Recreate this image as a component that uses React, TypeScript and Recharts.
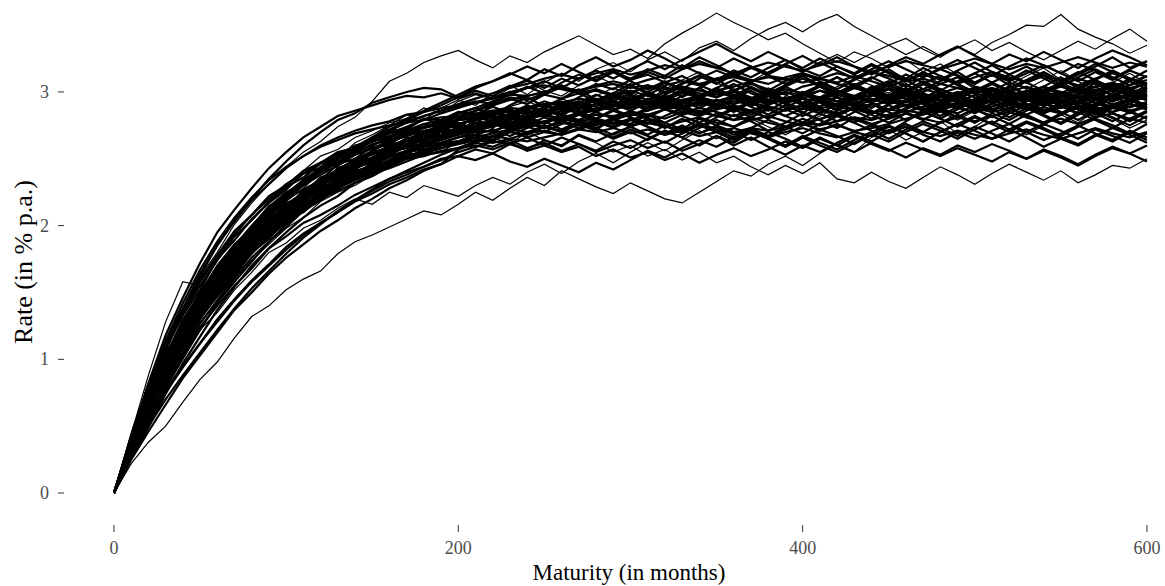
import { LineChart, Line, XAxis, YAxis, Label } from "recharts";

// maturity grid, one point every 10 months
const months = [
  0, 10, 20, 30, 40, 50, 60, 70, 80, 90,
  100, 110, 120, 130, 140, 150, 160, 170, 180, 190,
  200, 210, 220, 230, 240, 250, 260, 270, 280, 290,
  300, 310, 320, 330, 340, 350, 360, 370, 380, 390,
  400, 410, 420, 430, 440, 450, 460, 470, 480, 490,
  500, 510, 520, 530, 540, 550, 560, 570, 580, 590,
  600,
];

const xTicks = [0, 200, 400, 600];
const yTicks = [0, 1, 2, 3];

// simulated short-rate paths (in % p.a.)
const p01 = [
  0, 0.44, 0.88, 1.28, 1.58, 1.55, 1.76, 1.93, 2.08, 2.20,
  2.30, 2.41, 2.52, 2.57, 2.66, 2.71, 2.77, 2.80, 2.88, 2.84,
  2.93, 2.98, 2.95, 3.03, 3.08, 3.01, 2.97, 3.05, 3.12, 3.06,
  3.00, 2.94, 3.02, 3.09, 3.15, 3.07, 3.01, 2.95, 3.03, 2.98,
  2.91, 2.96, 3.04, 3.10, 3.05, 2.99, 3.08, 3.14, 3.06, 3.11,
  3.02, 2.96, 3.05, 3.12, 3.18, 3.09, 3.03, 3.10, 3.16, 3.08,
  3.12,
];
const p02 = [
  0, 0.22, 0.38, 0.50, 0.68, 0.85, 0.98, 1.16, 1.32, 1.40,
  1.52, 1.60, 1.66, 1.79, 1.88, 1.93, 1.99, 2.05, 2.11, 2.08,
  2.16, 2.25, 2.19, 2.28, 2.36, 2.30, 2.41, 2.35, 2.29, 2.24,
  2.32, 2.26, 2.20, 2.17, 2.25, 2.33, 2.41, 2.37, 2.46, 2.52,
  2.45, 2.54, 2.61, 2.55, 2.66, 2.72, 2.64, 2.70, 2.78, 2.69,
  2.74, 2.82, 2.76, 2.68, 2.75, 2.83, 2.77, 2.86, 2.80, 2.73,
  2.79,
];
const p03 = [
  0, 0.45, 0.82, 1.10, 1.36, 1.62, 1.80, 2.01, 2.17, 2.31,
  2.44, 2.55, 2.63, 2.74, 2.81, 2.93, 3.08, 3.14, 3.22, 3.27,
  3.31, 3.24, 3.18, 3.27, 3.22, 3.30, 3.36, 3.42, 3.35, 3.28,
  3.32, 3.25, 3.36, 3.44, 3.51, 3.59, 3.52, 3.46, 3.39, 3.44,
  3.36, 3.29, 3.22, 3.30, 3.25, 3.18, 3.24, 3.15, 3.21, 3.13,
  3.07, 3.15, 3.10, 3.02, 3.09, 3.16, 3.08, 3.01, 3.07, 3.14,
  3.06,
];
const p04 = [
  0, 0.40, 0.74, 1.05, 1.26, 1.48, 1.69, 1.84, 2.00, 2.15,
  2.22, 2.35, 2.46, 2.50, 2.62, 2.68, 2.75, 2.83, 2.79, 2.88,
  2.94, 2.90, 2.99, 3.05, 2.98, 3.07, 3.14, 3.08, 3.17, 3.22,
  3.15, 3.24, 3.30, 3.23, 3.33, 3.38, 3.31, 3.40, 3.47, 3.52,
  3.45, 3.53, 3.58, 3.49, 3.42, 3.35, 3.40, 3.32, 3.26, 3.34,
  3.28, 3.37, 3.43, 3.50, 3.49, 3.58, 3.47, 3.41, 3.36, 3.29,
  3.35,
];
const p05 = [
  0, 0.30, 0.58, 0.85, 1.05, 1.27, 1.42, 1.60, 1.74, 1.86,
  1.98, 2.06, 2.18, 2.25, 2.30, 2.38, 2.45, 2.50, 2.58, 2.55,
  2.63, 2.58, 2.66, 2.61, 2.70, 2.64, 2.59, 2.67, 2.62, 2.55,
  2.60, 2.52, 2.57, 2.49, 2.55, 2.47, 2.52, 2.44, 2.38, 2.45,
  2.39, 2.47, 2.35, 2.32, 2.40, 2.33, 2.28, 2.36, 2.44, 2.38,
  2.31, 2.39, 2.46, 2.40, 2.34, 2.41, 2.32, 2.38, 2.45, 2.43,
  2.50,
];
const p06 = [
  0, 0.28, 0.55, 0.80, 1.00, 1.22, 1.35, 1.52, 1.65, 1.80,
  1.87, 1.98, 2.04, 2.13, 2.20, 2.16, 2.25, 2.21, 2.30, 2.26,
  2.22, 2.30, 2.36, 2.31, 2.40, 2.46, 2.39, 2.48, 2.54, 2.47,
  2.55, 2.62, 2.56, 2.64, 2.71, 2.65, 2.73, 2.80, 2.74, 2.68,
  2.75, 2.82, 2.88, 2.80, 2.74, 2.81, 2.87, 2.93, 2.85, 2.79,
  2.86, 2.92, 2.84, 2.90, 2.97, 2.89, 2.83, 2.90, 2.96, 2.88,
  2.93,
];
const p07 = [
  0, 0.39, 0.75, 1.02, 1.30, 1.49, 1.70, 1.86, 1.97, 2.14,
  2.25, 2.31, 2.44, 2.52, 2.55, 2.64, 2.70, 2.73, 2.80, 2.76,
  2.84, 2.88, 2.82, 2.90, 2.96, 2.89, 2.95, 3.02, 2.94, 2.99,
  3.06, 2.98, 3.04, 2.96, 3.03, 3.10, 3.01, 3.07, 2.99, 3.05,
  3.12, 3.04, 2.97, 3.03, 3.10, 3.17, 3.09, 3.02, 3.08, 3.15,
  3.07, 3.13, 3.05, 2.98, 3.04, 3.11, 3.03, 3.09, 3.16, 3.10,
  3.04,
];
const p08 = [
  0, 0.31, 0.57, 0.86, 1.05, 1.31, 1.47, 1.62, 1.80, 1.90,
  2.05, 2.10, 2.21, 2.27, 2.37, 2.41, 2.46, 2.54, 2.52, 2.60,
  2.62, 2.66, 2.63, 2.70, 2.68, 2.74, 2.71, 2.78, 2.72, 2.80,
  2.76, 2.83, 2.77, 2.72, 2.80, 2.75, 2.83, 2.78, 2.71, 2.77,
  2.84, 2.79, 2.73, 2.81, 2.76, 2.70, 2.78, 2.85, 2.80, 2.74,
  2.81, 2.76, 2.84, 2.90, 2.83, 2.77, 2.85, 2.79, 2.73, 2.80,
  2.86,
];
const p09 = [
  0, 0.36, 0.70, 0.97, 1.15, 1.44, 1.61, 1.73, 1.94, 2.05,
  2.10, 2.26, 2.30, 2.43, 2.48, 2.50, 2.61, 2.60, 2.69, 2.65,
  2.75, 2.73, 2.80, 2.76, 2.85, 2.81, 2.89, 2.84, 2.92, 2.86,
  2.93, 2.88, 2.95, 2.90, 2.84, 2.91, 2.97, 2.92, 2.86, 2.93,
  2.99, 2.92, 2.87, 2.95, 3.01, 2.96, 2.89, 2.95, 3.02, 2.97,
  2.91, 2.98, 2.93, 2.87, 2.94, 3.00, 2.95, 2.89, 2.96, 3.02,
  2.97,
];
const p10 = [
  0, 0.42, 0.80, 1.08, 1.35, 1.55, 1.74, 1.92, 2.04, 2.18,
  2.29, 2.36, 2.47, 2.51, 2.60, 2.63, 2.66, 2.72, 2.70, 2.74,
  2.77, 2.72, 2.78, 2.74, 2.69, 2.75, 2.70, 2.76, 2.71, 2.65,
  2.70, 2.64, 2.71, 2.66, 2.60, 2.67, 2.62, 2.70, 2.65, 2.59,
  2.66, 2.72, 2.67, 2.61, 2.68, 2.74, 2.69, 2.63, 2.70, 2.76,
  2.71, 2.65, 2.72, 2.78, 2.73, 2.67, 2.74, 2.80, 2.75, 2.69,
  2.76,
];
const p11 = [
  0, 0.26, 0.52, 0.78, 1.01, 1.22, 1.42, 1.58, 1.73, 1.88,
  1.99, 2.11, 2.19, 2.30, 2.38, 2.47, 2.53, 2.60, 2.67, 2.74,
  2.79, 2.86, 2.92, 2.98, 3.04, 2.99, 3.07, 3.13, 3.08, 3.15,
  3.10, 3.17, 3.12, 3.20, 3.14, 3.09, 3.16, 3.11, 3.18, 3.24,
  3.17, 3.12, 3.19, 3.14, 3.21, 3.15, 3.10, 3.18, 3.12, 3.07,
  3.14, 3.20, 3.13, 3.19, 3.12, 3.06, 3.13, 3.19, 3.26, 3.18,
  3.23,
];
const p12 = [
  0, 0.34, 0.68, 0.92, 1.22, 1.38, 1.63, 1.77, 1.87, 2.07,
  2.17, 2.21, 2.35, 2.37, 2.49, 2.55, 2.55, 2.66, 2.63, 2.73,
  2.70, 2.79, 2.75, 2.84, 2.79, 2.87, 2.82, 2.91, 2.85, 2.93,
  2.88, 2.95, 2.90, 2.97, 3.03, 2.96, 3.02, 2.95, 3.01, 2.94,
  3.00, 2.93, 2.99, 3.05, 2.98, 2.92, 2.99, 3.06, 3.00, 2.94,
  3.01, 3.07, 3.00, 2.93, 2.99, 3.05, 2.98, 3.04, 2.97, 3.03,
  2.96,
];
const p13 = [
  0, 0.33, 0.63, 0.90, 1.12, 1.36, 1.55, 1.70, 1.83, 1.98,
  2.07, 2.19, 2.26, 2.33, 2.41, 2.44, 2.52, 2.55, 2.59, 2.62,
  2.66, 2.68, 2.64, 2.71, 2.66, 2.60, 2.66, 2.61, 2.56, 2.63,
  2.58, 2.65, 2.71, 2.66, 2.73, 2.79, 2.74, 2.81, 2.87, 2.82,
  2.88, 2.84, 2.91, 2.86, 2.80, 2.87, 2.93, 2.88, 2.82, 2.89,
  2.84, 2.91, 2.97, 2.91, 2.85, 2.92, 2.87, 2.81, 2.88, 2.94,
  2.88,
];
const p14 = [
  0, 0.40, 0.80, 1.13, 1.38, 1.64, 1.85, 2.04, 2.20, 2.35,
  2.48, 2.60, 2.70, 2.79, 2.84, 2.92, 2.96, 3.00, 3.03, 3.02,
  2.96, 3.01, 2.97, 3.04, 3.09, 3.03, 3.10, 3.05, 3.11, 3.16,
  3.09, 3.13, 3.07, 3.12, 3.05, 3.00, 3.06, 2.99, 2.94, 3.00,
  2.95, 3.01, 2.96, 2.90, 2.97, 3.03, 2.98, 2.92, 2.99, 2.94,
  2.88, 2.95, 3.01, 2.96, 2.90, 2.97, 3.03, 2.98, 3.05, 2.99,
  3.04,
];
const p15 = [
  0, 0.29, 0.60, 0.83, 1.04, 1.24, 1.40, 1.55, 1.68, 1.83,
  1.92, 2.02, 2.08, 2.15, 2.23, 2.29, 2.35, 2.40, 2.44, 2.50,
  2.52, 2.57, 2.54, 2.61, 2.57, 2.64, 2.60, 2.68, 2.63, 2.69,
  2.74, 2.68, 2.75, 2.70, 2.77, 2.72, 2.66, 2.73, 2.79, 2.74,
  2.69, 2.76, 2.82, 2.77, 2.71, 2.65, 2.72, 2.78, 2.73, 2.67,
  2.74, 2.69, 2.63, 2.70, 2.76, 2.71, 2.65, 2.72, 2.67, 2.62,
  2.69,
];
const p16 = [
  0, 0.37, 0.71, 1.00, 1.20, 1.45, 1.62, 1.80, 1.96, 2.09,
  2.19, 2.30, 2.38, 2.45, 2.53, 2.58, 2.62, 2.68, 2.74, 2.78,
  2.81, 2.86, 2.90, 2.95, 2.91, 2.98, 3.04, 2.99, 3.06, 3.02,
  3.09, 3.15, 3.10, 3.17, 3.23, 3.18, 3.25, 3.19, 3.14, 3.21,
  3.27, 3.20, 3.26, 3.19, 3.13, 3.20, 3.26, 3.21, 3.28, 3.34,
  3.27, 3.21, 3.28, 3.23, 3.30, 3.24, 3.18, 3.25, 3.31, 3.26,
  3.20,
];
const p17 = [
  0, 0.34, 0.66, 0.96, 1.20, 1.40, 1.57, 1.72, 1.91, 2.00,
  2.14, 2.20, 2.29, 2.38, 2.43, 2.48, 2.56, 2.58, 2.62, 2.66,
  2.69, 2.71, 2.76, 2.72, 2.78, 2.74, 2.70, 2.76, 2.71, 2.66,
  2.72, 2.67, 2.62, 2.69, 2.75, 2.70, 2.64, 2.71, 2.66, 2.60,
  2.67, 2.62, 2.57, 2.64, 2.70, 2.75, 2.69, 2.63, 2.70, 2.76,
  2.82, 2.76, 2.70, 2.77, 2.72, 2.66, 2.61, 2.68, 2.63, 2.70,
  2.64,
];
const p18 = [
  0, 0.37, 0.64, 0.98, 1.14, 1.43, 1.54, 1.79, 1.86, 2.06,
  2.10, 2.27, 2.28, 2.43, 2.42, 2.56, 2.53, 2.66, 2.62, 2.74,
  2.68, 2.80, 2.73, 2.84, 2.76, 2.88, 2.81, 2.93, 2.86, 2.97,
  2.90, 2.99, 2.92, 2.85, 2.94, 2.87, 2.96, 2.89, 2.98, 2.91,
  2.84, 2.93, 2.86, 2.95, 3.04, 2.97, 3.06, 2.98, 2.90, 2.99,
  2.92, 3.01, 2.94, 2.87, 2.96, 2.89, 2.98, 3.07, 3.00, 2.93,
  3.01,
];
const p19 = [
  0, 0.36, 0.69, 0.98, 1.24, 1.46, 1.64, 1.83, 1.95, 2.10,
  2.21, 2.33, 2.40, 2.50, 2.57, 2.65, 2.71, 2.79, 2.85, 2.90,
  2.96, 3.03, 3.08, 3.14, 3.09, 3.17, 3.12, 3.20, 3.26, 3.19,
  3.24, 3.31, 3.25, 3.18, 3.26, 3.20, 3.13, 3.19, 3.12, 3.06,
  3.12, 3.05, 2.99, 3.06, 3.00, 2.94, 3.01, 2.95, 2.89, 2.96,
  3.02, 2.96, 3.03, 3.09, 3.15, 3.08, 3.14, 3.21, 3.15, 3.09,
  3.16,
];
const p20 = [
  0, 0.32, 0.62, 0.89, 1.14, 1.32, 1.52, 1.66, 1.82, 1.95,
  2.06, 2.14, 2.24, 2.29, 2.35, 2.42, 2.45, 2.50, 2.52, 2.56,
  2.58, 2.62, 2.59, 2.64, 2.58, 2.62, 2.56, 2.61, 2.55, 2.60,
  2.64, 2.58, 2.63, 2.56, 2.61, 2.67, 2.60, 2.66, 2.59, 2.53,
  2.60, 2.55, 2.62, 2.68, 2.63, 2.70, 2.76, 2.70, 2.77, 2.83,
  2.77, 2.84, 2.79, 2.86, 2.92, 2.85, 2.79, 2.86, 2.81, 2.75,
  2.82,
];
const p21 = [
  0, 0.35, 0.72, 0.99, 1.19, 1.47, 1.60, 1.80, 1.93, 2.06,
  2.20, 2.27, 2.34, 2.46, 2.50, 2.59, 2.60, 2.70, 2.68, 2.77,
  2.79, 2.80, 2.86, 2.82, 2.89, 2.84, 2.92, 2.88, 2.95, 2.90,
  2.97, 2.91, 2.98, 3.04, 2.97, 3.03, 2.96, 2.90, 2.97, 3.04,
  2.98, 3.05, 3.11, 3.04, 2.98, 3.05, 2.99, 3.06, 3.12, 3.05,
  2.99, 3.06, 3.00, 2.94, 3.01, 3.07, 3.01, 2.95, 3.02, 3.08,
  3.02,
];
const p22 = [
  0, 0.32, 0.65, 0.91, 1.15, 1.37, 1.53, 1.73, 1.85, 1.99,
  2.09, 2.21, 2.27, 2.36, 2.42, 2.50, 2.53, 2.61, 2.64, 2.70,
  2.71, 2.77, 2.74, 2.81, 2.86, 2.82, 2.89, 2.84, 2.91, 2.97,
  2.93, 3.00, 2.95, 3.02, 2.96, 3.03, 3.09, 3.03, 2.97, 3.04,
  3.10, 3.04, 3.11, 3.05, 2.99, 3.06, 3.13, 3.07, 3.01, 3.08,
  3.14, 3.07, 3.01, 3.08, 3.14, 3.08, 3.15, 3.09, 3.03, 3.10,
  3.06,
];
const p23 = [
  0, 0.36, 0.67, 0.93, 1.18, 1.38, 1.59, 1.74, 1.86, 2.01,
  2.11, 2.24, 2.30, 2.37, 2.47, 2.50, 2.55, 2.63, 2.64, 2.68,
  2.73, 2.74, 2.78, 2.75, 2.80, 2.76, 2.82, 2.78, 2.73, 2.79,
  2.74, 2.80, 2.75, 2.69, 2.76, 2.70, 2.64, 2.71, 2.65, 2.59,
  2.66, 2.60, 2.55, 2.62, 2.68, 2.63, 2.70, 2.76, 2.71, 2.65,
  2.72, 2.78, 2.72, 2.66, 2.59, 2.65, 2.60, 2.67, 2.73, 2.68,
  2.62,
];
const p24 = [
  0, 0.41, 0.78, 1.09, 1.33, 1.52, 1.75, 1.89, 2.05, 2.17,
  2.27, 2.39, 2.43, 2.54, 2.59, 2.63, 2.71, 2.72, 2.80, 2.79,
  2.85, 2.83, 2.89, 2.84, 2.90, 2.85, 2.91, 2.86, 2.80, 2.86,
  2.92, 2.86, 2.93, 2.87, 2.94, 2.89, 2.95, 3.01, 2.94, 2.88,
  2.95, 2.89, 2.96, 2.90, 2.84, 2.91, 2.97, 2.91, 2.85, 2.92,
  2.98, 2.92, 2.86, 2.93, 2.99, 2.93, 2.87, 2.94, 2.88, 2.95,
  2.90,
];
const p25 = [
  0, 0.27, 0.55, 0.81, 1.03, 1.27, 1.44, 1.61, 1.76, 1.88,
  2.01, 2.12, 2.19, 2.28, 2.36, 2.43, 2.49, 2.56, 2.61, 2.66,
  2.70, 2.75, 2.79, 2.84, 2.80, 2.87, 2.83, 2.89, 2.85, 2.91,
  2.86, 2.92, 2.87, 2.93, 2.88, 2.94, 2.89, 2.83, 2.90, 2.96,
  2.90, 2.84, 2.91, 2.97, 2.92, 2.86, 2.93, 2.99, 2.94, 2.88,
  2.95, 3.01, 2.95, 2.89, 2.96, 2.90, 2.84, 2.91, 2.97, 2.91,
  2.98,
];
const p26 = [
  0, 0.35, 0.66, 0.96, 1.17, 1.41, 1.58, 1.77, 1.90, 2.04,
  2.13, 2.25, 2.33, 2.41, 2.46, 2.55, 2.58, 2.65, 2.69, 2.71,
  2.76, 2.80, 2.84, 2.82, 2.88, 2.93, 2.89, 2.96, 3.02, 2.97,
  3.04, 3.00, 3.07, 3.02, 3.10, 3.16, 3.11, 3.18, 3.13, 3.20,
  3.15, 3.22, 3.16, 3.10, 3.17, 3.23, 3.17, 3.11, 3.18, 3.24,
  3.18, 3.12, 3.19, 3.25, 3.20, 3.14, 3.21, 3.16, 3.10, 3.17,
  3.23,
];
const p27 = [
  0, 0.33, 0.68, 0.92, 1.16, 1.39, 1.55, 1.76, 1.87, 2.00,
  2.12, 2.22, 2.30, 2.40, 2.44, 2.51, 2.57, 2.60, 2.64, 2.67,
  2.70, 2.73, 2.78, 2.74, 2.79, 2.73, 2.78, 2.73, 2.79, 2.74,
  2.80, 2.74, 2.69, 2.75, 2.69, 2.74, 2.68, 2.73, 2.67, 2.72,
  2.77, 2.71, 2.76, 2.70, 2.75, 2.69, 2.74, 2.68, 2.63, 2.70,
  2.65, 2.71, 2.76, 2.70, 2.64, 2.69, 2.75, 2.69, 2.64, 2.71,
  2.66,
];
const p28 = [
  0, 0.38, 0.72, 1.01, 1.25, 1.43, 1.66, 1.79, 1.96, 2.08,
  2.18, 2.28, 2.40, 2.44, 2.54, 2.57, 2.65, 2.67, 2.73, 2.75,
  2.80, 2.82, 2.86, 2.89, 2.93, 2.88, 2.95, 2.90, 2.97, 3.03,
  2.98, 3.05, 3.00, 3.07, 3.13, 3.07, 3.14, 3.08, 3.15, 3.21,
  3.15, 3.22, 3.28, 3.22, 3.29, 3.35, 3.28, 3.34, 3.27, 3.33,
  3.39, 3.31, 3.37, 3.30, 3.24, 3.31, 3.38, 3.32, 3.40, 3.47,
  3.38,
];
const p29 = [
  0, 0.31, 0.60, 0.87, 1.08, 1.30, 1.48, 1.64, 1.79, 1.92,
  2.02, 2.12, 2.20, 2.26, 2.32, 2.39, 2.43, 2.48, 2.53, 2.55,
  2.58, 2.60, 2.57, 2.62, 2.56, 2.60, 2.55, 2.59, 2.52, 2.57,
  2.51, 2.55, 2.49, 2.54, 2.47, 2.53, 2.58, 2.52, 2.57, 2.63,
  2.58, 2.65, 2.60, 2.67, 2.61, 2.56, 2.62, 2.57, 2.52, 2.58,
  2.53, 2.48, 2.55, 2.50, 2.56, 2.51, 2.45, 2.52, 2.58, 2.54,
  2.60,
];
const p30 = [
  0, 0.37, 0.70, 0.95, 1.21, 1.41, 1.60, 1.78, 1.92, 2.04,
  2.16, 2.24, 2.36, 2.41, 2.50, 2.53, 2.60, 2.64, 2.70, 2.72,
  2.76, 2.79, 2.82, 2.87, 2.83, 2.89, 2.93, 2.88, 2.94, 2.89,
  2.95, 2.90, 2.96, 2.91, 2.97, 2.91, 2.86, 2.93, 2.99, 2.94,
  3.00, 2.95, 2.89, 2.96, 3.02, 2.97, 3.03, 2.96, 2.91, 2.97,
  3.03, 2.98, 2.92, 2.98, 3.04, 2.97, 2.91, 2.98, 3.04, 2.98,
  2.94,
];
const p31 = [
  0, 0.34, 0.64, 0.92, 1.16, 1.36, 1.56, 1.71, 1.86, 1.98,
  2.10, 2.19, 2.28, 2.34, 2.44, 2.47, 2.53, 2.59, 2.61, 2.66,
  2.68, 2.72, 2.70, 2.76, 2.81, 2.77, 2.83, 2.79, 2.85, 2.80,
  2.86, 2.81, 2.87, 2.82, 2.77, 2.84, 2.79, 2.86, 2.80, 2.87,
  2.82, 2.88, 2.83, 2.77, 2.84, 2.90, 2.85, 2.79, 2.86, 2.81,
  2.87, 2.82, 2.76, 2.83, 2.89, 2.84, 2.90, 2.84, 2.78, 2.85,
  2.80,
];
const p32 = [
  0, 0.39, 0.74, 1.03, 1.27, 1.50, 1.69, 1.85, 2.00, 2.13,
  2.24, 2.34, 2.43, 2.51, 2.58, 2.66, 2.74, 2.80, 2.86, 2.92,
  2.98, 3.04, 3.08, 3.13, 3.19, 3.14, 3.21, 3.15, 3.09, 3.15,
  3.08, 3.02, 3.08, 3.01, 2.95, 3.02, 2.96, 3.03, 2.97, 2.91,
  2.97, 3.04, 2.98, 3.05, 3.11, 3.05, 2.99, 3.06, 3.12, 3.06,
  3.00, 3.07, 3.13, 3.07, 3.01, 2.95, 3.02, 3.08, 3.02, 2.97,
  3.03,
];
const p33 = [
  0, 0.27, 0.52, 0.75, 0.94, 1.12, 1.30, 1.45, 1.59, 1.71,
  1.84, 1.94, 2.02, 2.10, 2.18, 2.24, 2.31, 2.36, 2.42, 2.46,
  2.52, 2.49, 2.54, 2.48, 2.44, 2.50, 2.45, 2.40, 2.47, 2.42,
  2.49, 2.56, 2.51, 2.58, 2.64, 2.59, 2.66, 2.72, 2.67, 2.74,
  2.80, 2.75, 2.82, 2.88, 2.83, 2.77, 2.84, 2.79, 2.86, 2.92,
  2.87, 2.81, 2.88, 2.83, 2.77, 2.84, 2.90, 2.85, 2.91, 2.86,
  2.80,
];
const p34 = [
  0, 0.42, 0.82, 1.18, 1.46, 1.72, 1.95, 2.12, 2.28, 2.43,
  2.55, 2.66, 2.74, 2.82, 2.86, 2.90, 2.94, 2.97, 2.96, 2.99,
  2.95, 2.99, 2.95, 3.00, 2.94, 2.99, 3.05, 2.99, 2.93, 2.99,
  2.94, 2.88, 2.95, 2.89, 2.84, 2.91, 2.85, 2.92, 2.98, 2.92,
  2.87, 2.94, 3.00, 2.94, 2.88, 2.95, 3.01, 3.08, 3.02, 2.96,
  3.03, 2.97, 2.91, 2.98, 3.04, 2.99, 2.93, 3.00, 3.06, 3.01,
  3.07,
];
const p35 = [
  0, 0.25, 0.46, 0.66, 0.86, 1.03, 1.20, 1.37, 1.50, 1.64,
  1.76, 1.86, 1.96, 2.04, 2.13, 2.20, 2.28, 2.34, 2.41, 2.46,
  2.57, 2.62, 2.67, 2.71, 2.76, 2.73, 2.79, 2.85, 2.80, 2.87,
  2.82, 2.88, 2.94, 2.89, 2.96, 3.02, 2.97, 3.04, 2.98, 2.92,
  2.99, 3.05, 3.00, 2.94, 3.01, 3.07, 3.01, 2.95, 3.02, 2.97,
  2.91, 2.98, 3.04, 2.98, 2.92, 2.99, 3.05, 2.99, 2.93, 3.00,
  2.95,
];
const p36 = [
  0, 0.33, 0.69, 0.94, 1.17, 1.42, 1.57, 1.72, 1.88, 2.03,
  2.12, 2.21, 2.33, 2.36, 2.45, 2.49, 2.57, 2.58, 2.65, 2.66,
  2.73, 2.71, 2.77, 2.73, 2.79, 2.83, 2.78, 2.84, 2.80, 2.86,
  2.81, 2.76, 2.82, 2.88, 2.83, 2.89, 2.95, 2.89, 2.83, 2.90,
  2.85, 2.79, 2.86, 2.92, 2.86, 2.80, 2.87, 2.93, 2.87, 2.81,
  2.88, 2.94, 2.88, 2.82, 2.76, 2.83, 2.89, 2.83, 2.90, 2.84,
  2.91,
];
const p37 = [
  0, 0.36, 0.68, 0.97, 1.19, 1.42, 1.62, 1.76, 1.91, 2.05,
  2.14, 2.26, 2.31, 2.42, 2.47, 2.54, 2.59, 2.65, 2.67, 2.73,
  2.74, 2.81, 2.85, 2.80, 2.87, 2.91, 2.86, 2.92, 2.98, 2.93,
  2.99, 3.05, 2.99, 3.06, 3.12, 3.06, 3.13, 3.07, 3.01, 3.08,
  3.14, 3.08, 3.02, 3.09, 3.15, 3.10, 3.04, 3.11, 3.17, 3.12,
  3.06, 3.13, 3.08, 3.14, 3.20, 3.14, 3.08, 3.15, 3.09, 3.16,
  3.11,
];
const p38 = [
  0, 0.30, 0.63, 0.88, 1.10, 1.34, 1.50, 1.68, 1.83, 1.96,
  2.04, 2.17, 2.23, 2.31, 2.37, 2.45, 2.48, 2.55, 2.57, 2.62,
  2.63, 2.68, 2.72, 2.67, 2.73, 2.78, 2.72, 2.78, 2.73, 2.68,
  2.74, 2.79, 2.73, 2.80, 2.74, 2.81, 2.87, 2.81, 2.88, 2.82,
  2.77, 2.84, 2.78, 2.85, 2.91, 2.85, 2.79, 2.86, 2.80, 2.87,
  2.93, 2.87, 2.81, 2.88, 2.82, 2.76, 2.83, 2.89, 2.84, 2.78,
  2.85,
];
const p39 = [
  0, 0.38, 0.71, 1.00, 1.23, 1.48, 1.67, 1.81, 1.97, 2.11,
  2.22, 2.31, 2.41, 2.47, 2.55, 2.60, 2.66, 2.71, 2.76, 2.79,
  2.84, 2.88, 2.93, 2.98, 3.03, 3.08, 3.03, 3.10, 3.16, 3.10,
  3.17, 3.23, 3.17, 3.24, 3.30, 3.36, 3.29, 3.23, 3.30, 3.24,
  3.18, 3.25, 3.19, 3.13, 3.20, 3.14, 3.08, 3.15, 3.09, 3.16,
  3.22, 3.15, 3.09, 3.16, 3.10, 3.04, 3.11, 3.17, 3.11, 3.05,
  3.12,
];
const p40 = [
  0, 0.33, 0.62, 0.90, 1.13, 1.35, 1.53, 1.70, 1.85, 1.99,
  2.09, 2.18, 2.27, 2.35, 2.40, 2.46, 2.52, 2.56, 2.60, 2.64,
  2.68, 2.71, 2.74, 2.78, 2.75, 2.81, 2.77, 2.83, 2.78, 2.73,
  2.79, 2.74, 2.68, 2.74, 2.69, 2.75, 2.70, 2.64, 2.70, 2.65,
  2.59, 2.66, 2.60, 2.55, 2.62, 2.57, 2.51, 2.58, 2.53, 2.60,
  2.55, 2.61, 2.56, 2.50, 2.57, 2.52, 2.46, 2.53, 2.59, 2.54,
  2.48,
];
const p41 = [
  0, 0.41, 0.79, 1.10, 1.36, 1.60, 1.78, 1.96, 2.08, 2.22,
  2.30, 2.41, 2.47, 2.55, 2.58, 2.66, 2.69, 2.71, 2.76, 2.74,
  2.79, 2.81, 2.78, 2.83, 2.86, 2.84, 2.90, 2.93, 2.89, 2.95,
  2.98, 2.94, 3.00, 3.03, 2.99, 2.96, 3.01, 3.06, 3.02, 2.98,
  3.04, 3.07, 3.01, 2.97, 3.03, 3.08, 3.05, 3.00, 3.06, 3.11,
  3.04, 3.01, 3.07, 3.03, 2.99, 3.05, 3.10, 3.06, 3.01, 3.05,
  3.09,
];
const p42 = [
  0, 0.26, 0.49, 0.74, 0.97, 1.17, 1.37, 1.54, 1.70, 1.83,
  1.95, 2.06, 2.15, 2.22, 2.32, 2.37, 2.44, 2.50, 2.55, 2.61,
  2.63, 2.68, 2.66, 2.71, 2.74, 2.70, 2.76, 2.79, 2.75, 2.81,
  2.84, 2.80, 2.77, 2.83, 2.86, 2.82, 2.88, 2.85, 2.81, 2.87,
  2.90, 2.86, 2.83, 2.89, 2.85, 2.82, 2.88, 2.92, 2.87, 2.84,
  2.90, 2.86, 2.91, 2.88, 2.84, 2.89, 2.93, 2.88, 2.85, 2.91,
  2.87,
];
const p43 = [
  0, 0.38, 0.74, 1.07, 1.35, 1.62, 1.86, 2.03, 2.19, 2.31,
  2.43, 2.52, 2.60, 2.66, 2.71, 2.75, 2.78, 2.83, 2.85, 2.88,
  2.90, 2.93, 2.91, 2.96, 2.94, 2.98, 2.95, 2.99, 3.02, 2.98,
  3.01, 2.97, 2.94, 2.99, 2.96, 3.00, 2.97, 2.93, 2.98, 3.02,
  2.99, 2.95, 3.00, 2.96, 2.92, 2.97, 3.01, 2.98, 2.94, 2.99,
  3.03, 2.99, 2.95, 3.00, 3.04, 3.00, 2.96, 3.01, 3.05, 3.01,
  2.97,
];
const p44 = [
  0, 0.31, 0.55, 0.77, 0.95, 1.12, 1.28, 1.44, 1.58, 1.70,
  1.82, 1.93, 2.02, 2.10, 2.19, 2.26, 2.33, 2.38, 2.44, 2.49,
  2.55, 2.59, 2.63, 2.61, 2.66, 2.70, 2.68, 2.73, 2.77, 2.74,
  2.79, 2.83, 2.80, 2.85, 2.82, 2.87, 2.90, 2.86, 2.91, 2.95,
  2.91, 2.96, 2.93, 2.89, 2.94, 2.98, 2.95, 2.91, 2.96, 3.00,
  2.96, 2.92, 2.97, 3.01, 2.97, 2.93, 2.98, 3.02, 2.98, 2.94,
  2.99,
];
const p45 = [
  0, 0.37, 0.66, 0.96, 1.17, 1.42, 1.57, 1.77, 1.88, 2.04,
  2.12, 2.25, 2.31, 2.41, 2.45, 2.54, 2.56, 2.64, 2.65, 2.71,
  2.71, 2.77, 2.76, 2.82, 2.80, 2.85, 2.84, 2.88, 2.86, 2.90,
  2.88, 2.92, 2.89, 2.93, 2.90, 2.94, 2.91, 2.95, 2.92, 2.96,
  2.92, 2.96, 2.93, 2.97, 2.93, 2.96, 2.92, 2.97, 2.94, 2.98,
  2.93, 2.97, 2.94, 2.98, 2.93, 2.97, 2.92, 2.96, 2.93, 2.97,
  2.94,
];
const p46 = [
  0, 0.33, 0.64, 0.90, 1.14, 1.36, 1.55, 1.72, 1.87, 2.01,
  2.14, 2.24, 2.34, 2.42, 2.49, 2.56, 2.62, 2.68, 2.73, 2.77,
  2.82, 2.86, 2.90, 2.94, 2.97, 3.00, 3.03, 3.01, 3.05, 3.08,
  3.05, 3.09, 3.12, 3.08, 3.05, 3.10, 3.13, 3.09, 3.06, 3.11,
  3.14, 3.10, 3.07, 3.12, 3.08, 3.04, 3.09, 3.13, 3.10, 3.06,
  3.11, 3.15, 3.11, 3.07, 3.12, 3.09, 3.05, 3.10, 3.14, 3.10,
  3.06,
];
const p47 = [
  0, 0.36, 0.70, 0.99, 1.20, 1.41, 1.57, 1.72, 1.85, 1.96,
  2.06, 2.15, 2.23, 2.30, 2.36, 2.43, 2.47, 2.52, 2.56, 2.60,
  2.63, 2.66, 2.69, 2.72, 2.70, 2.74, 2.77, 2.75, 2.79, 2.76,
  2.80, 2.77, 2.74, 2.78, 2.81, 2.77, 2.74, 2.79, 2.82, 2.78,
  2.75, 2.80, 2.83, 2.79, 2.76, 2.80, 2.84, 2.80, 2.77, 2.81,
  2.78, 2.82, 2.85, 2.81, 2.77, 2.80, 2.76, 2.81, 2.84, 2.80,
  2.77,
];
const p48 = [
  0, 0.35, 0.69, 0.97, 1.21, 1.43, 1.62, 1.79, 1.94, 2.08,
  2.20, 2.31, 2.40, 2.48, 2.56, 2.63, 2.69, 2.74, 2.79, 2.84,
  2.88, 2.92, 2.96, 3.00, 3.03, 3.05, 3.02, 2.99, 3.01, 2.97,
  2.94, 2.91, 2.87, 2.89, 2.85, 2.82, 2.79, 2.81, 2.77, 2.74,
  2.76, 2.72, 2.75, 2.71, 2.73, 2.76, 2.80, 2.83, 2.87, 2.90,
  2.94, 2.97, 3.00, 2.97, 3.02, 3.05, 3.01, 3.04, 3.07, 3.03,
  3.06,
];
const p49 = [
  0, 0.33, 0.64, 0.90, 1.12, 1.32, 1.50, 1.66, 1.80, 1.93,
  2.04, 2.13, 2.21, 2.28, 2.34, 2.40, 2.45, 2.50, 2.54, 2.58,
  2.61, 2.64, 2.62, 2.65, 2.63, 2.66, 2.69, 2.72, 2.76, 2.79,
  2.83, 2.86, 2.90, 2.94, 2.97, 3.01, 3.04, 3.08, 3.11, 3.09,
  3.13, 3.10, 3.14, 3.11, 3.15, 3.12, 3.08, 3.10, 3.06, 3.03,
  2.99, 3.02, 2.98, 2.95, 2.91, 2.94, 2.90, 2.87, 2.90, 2.86,
  2.89,
];
const p50 = [
  0, 0.39, 0.72, 1.01, 1.27, 1.49, 1.68, 1.85, 1.99, 2.12,
  2.23, 2.33, 2.41, 2.47, 2.54, 2.61, 2.64, 2.70, 2.73, 2.77,
  2.79, 2.83, 2.84, 2.88, 2.87, 2.91, 2.92, 2.95, 2.93, 2.97,
  2.95, 2.98, 2.96, 3.00, 2.97, 3.01, 2.98, 2.95, 2.99, 3.02,
  2.99, 2.96, 3.00, 3.03, 2.99, 2.95, 2.98, 3.02, 2.99, 2.96,
  3.00, 3.03, 2.99, 2.96, 3.00, 3.04, 3.00, 2.97, 3.01, 2.98,
  3.02,
];
const p51 = [
  0, 0.30, 0.61, 0.86, 1.09, 1.30, 1.49, 1.65, 1.80, 1.92,
  2.04, 2.13, 2.23, 2.30, 2.37, 2.43, 2.49, 2.54, 2.59, 2.62,
  2.66, 2.70, 2.71, 2.75, 2.74, 2.78, 2.80, 2.79, 2.83, 2.82,
  2.85, 2.83, 2.87, 2.84, 2.88, 2.85, 2.82, 2.86, 2.89, 2.86,
  2.90, 2.87, 2.84, 2.88, 2.91, 2.87, 2.85, 2.89, 2.92, 2.88,
  2.85, 2.89, 2.93, 2.89, 2.86, 2.90, 2.87, 2.84, 2.88, 2.91,
  2.87,
];
const p52 = [
  0, 0.36, 0.68, 0.96, 1.21, 1.43, 1.63, 1.80, 1.95, 2.09,
  2.21, 2.32, 2.42, 2.50, 2.58, 2.65, 2.71, 2.77, 2.82, 2.86,
  2.91, 2.95, 2.99, 3.03, 3.06, 3.10, 3.13, 3.10, 3.14, 3.17,
  3.13, 3.16, 3.20, 3.17, 3.21, 3.18, 3.14, 3.18, 3.22, 3.19,
  3.16, 3.20, 3.23, 3.19, 3.15, 3.19, 3.23, 3.20, 3.17, 3.21,
  3.25, 3.21, 3.17, 3.21, 3.18, 3.22, 3.26, 3.22, 3.18, 3.22,
  3.19,
];
const p53 = [
  0, 0.32, 0.63, 0.90, 1.12, 1.33, 1.51, 1.67, 1.81, 1.94,
  2.05, 2.14, 2.22, 2.29, 2.35, 2.41, 2.46, 2.51, 2.55, 2.58,
  2.62, 2.64, 2.67, 2.65, 2.69, 2.71, 2.68, 2.72, 2.70, 2.73,
  2.69, 2.72, 2.68, 2.71, 2.67, 2.70, 2.73, 2.69, 2.66, 2.70,
  2.73, 2.69, 2.66, 2.70, 2.67, 2.71, 2.74, 2.70, 2.67, 2.71,
  2.68, 2.65, 2.69, 2.72, 2.68, 2.65, 2.69, 2.73, 2.69, 2.66,
  2.70,
];
const p54 = [
  0, 0.40, 0.77, 1.07, 1.34, 1.58, 1.77, 1.94, 2.08, 2.20,
  2.31, 2.39, 2.47, 2.53, 2.59, 2.63, 2.67, 2.71, 2.74, 2.76,
  2.79, 2.81, 2.83, 2.86, 2.84, 2.88, 2.90, 2.87, 2.91, 2.93,
  2.90, 2.94, 2.97, 2.93, 2.96, 3.00, 2.96, 2.93, 2.97, 3.00,
  2.97, 3.01, 2.98, 2.94, 2.98, 3.02, 2.99, 2.95, 2.99, 3.03,
  2.99, 2.96, 3.00, 3.04, 3.00, 2.97, 3.01, 2.98, 2.94, 2.98,
  3.01,
];
const p55 = [
  0, 0.27, 0.50, 0.70, 0.88, 1.05, 1.22, 1.38, 1.53, 1.66,
  1.79, 1.91, 2.01, 2.11, 2.19, 2.27, 2.35, 2.41, 2.47, 2.53,
  2.58, 2.63, 2.67, 2.71, 2.75, 2.78, 2.81, 2.84, 2.86, 2.89,
  2.91, 2.93, 2.90, 2.94, 2.96, 2.93, 2.97, 2.94, 2.91, 2.95,
  2.98, 2.94, 2.91, 2.95, 2.98, 2.94, 2.90, 2.94, 2.97, 2.93,
  2.90, 2.94, 2.97, 2.94, 2.90, 2.93, 2.96, 2.92, 2.89, 2.93,
  2.96,
];
const p56 = [
  0, 0.42, 0.81, 1.14, 1.42, 1.67, 1.88, 2.06, 2.21, 2.34,
  2.44, 2.52, 2.59, 2.64, 2.69, 2.72, 2.75, 2.77, 2.79, 2.81,
  2.82, 2.84, 2.86, 2.85, 2.88, 2.90, 2.87, 2.91, 2.93, 2.90,
  2.94, 2.91, 2.88, 2.92, 2.95, 2.91, 2.88, 2.92, 2.89, 2.86,
  2.90, 2.93, 2.89, 2.86, 2.90, 2.93, 2.90, 2.87, 2.91, 2.94,
  2.90, 2.87, 2.91, 2.88, 2.85, 2.89, 2.92, 2.88, 2.85, 2.89,
  2.92,
];
const p57 = [
  0, 0.34, 0.63, 0.89, 1.11, 1.32, 1.50, 1.67, 1.81, 1.94,
  2.06, 2.16, 2.25, 2.32, 2.39, 2.45, 2.51, 2.56, 2.61, 2.65,
  2.69, 2.72, 2.76, 2.79, 2.82, 2.85, 2.88, 2.91, 2.94, 2.97,
  3.00, 3.03, 3.05, 3.08, 3.06, 3.09, 3.11, 3.08, 3.12, 3.10,
  3.07, 3.10, 3.06, 3.03, 3.00, 3.02, 2.98, 2.95, 2.98, 2.94,
  2.91, 2.94, 2.90, 2.87, 2.91, 2.88, 2.92, 2.95, 2.91, 2.94,
  2.97,
];
const p58 = [
  0, 0.37, 0.71, 1.00, 1.25, 1.47, 1.66, 1.83, 1.98, 2.11,
  2.22, 2.32, 2.40, 2.47, 2.53, 2.58, 2.63, 2.67, 2.71, 2.74,
  2.76, 2.79, 2.81, 2.83, 2.81, 2.83, 2.80, 2.78, 2.80, 2.77,
  2.75, 2.77, 2.74, 2.72, 2.75, 2.72, 2.70, 2.73, 2.71, 2.74,
  2.77, 2.75, 2.78, 2.81, 2.79, 2.83, 2.86, 2.84, 2.88, 2.91,
  2.89, 2.93, 2.96, 2.93, 2.97, 3.00, 2.97, 2.94, 2.98, 2.95,
  2.99,
];
const p59 = [
  0, 0.35, 0.67, 0.95, 1.19, 1.39, 1.59, 1.74, 1.90, 2.01,
  2.14, 2.22, 2.33, 2.38, 2.47, 2.51, 2.58, 2.61, 2.67, 2.68,
  2.73, 2.74, 2.78, 2.79, 2.82, 2.82, 2.86, 2.85, 2.88, 2.87,
  2.90, 2.88, 2.91, 2.89, 2.92, 2.90, 2.93, 2.91, 2.94, 2.92,
  2.95, 2.93, 2.96, 2.92, 2.95, 2.91, 2.94, 2.97, 2.93, 2.96,
  2.92, 2.95, 2.98, 2.94, 2.97, 2.93, 2.96, 2.99, 2.95, 2.98,
  2.94,
];
const p60 = [
  0, 0.36, 0.70, 0.98, 1.22, 1.45, 1.64, 1.81, 1.96, 2.10,
  2.22, 2.33, 2.43, 2.51, 2.59, 2.66, 2.72, 2.78, 2.82, 2.86,
  2.89, 2.92, 2.95, 2.98, 2.97, 3.00, 3.03, 3.01, 3.04, 3.06,
  3.03, 3.05, 3.02, 3.04, 3.01, 2.98, 3.00, 2.96, 2.93, 2.95,
  2.91, 2.88, 2.90, 2.87, 2.84, 2.87, 2.90, 2.86, 2.89, 2.92,
  2.88, 2.85, 2.88, 2.91, 2.87, 2.84, 2.88, 2.91, 2.88, 2.85,
  2.89,
];

const paths = [
  p01, p02, p03, p04, p05, p06, p07, p08, p09, p10,
  p11, p12, p13, p14, p15, p16, p17, p18, p19, p20,
  p21, p22, p23, p24, p25, p26, p27, p28, p29, p30,
  p31, p32, p33, p34, p35, p36, p37, p38, p39, p40,
  p41, p42, p43, p44, p45, p46, p47, p48, p49, p50,
  p51, p52, p53, p54, p55, p56, p57, p58, p59, p60,
];

// the stray paths at the edge of the band are drawn thin, the bulk thicker
const thin = [p01, p02, p03, p04, p05, p06, p28];

const data = months.map((m, i) => {
  const row: Record<string, number> = { month: m };
  paths.forEach((p, j) => {
    row["s" + j] = p[i];
  });
  return row;
});

const FONT = "'Liberation Serif', 'Times New Roman', serif";
const TICK_COLOR = "#4d4d4d";

function XTick(props: any) {
  const { x, y, payload } = props;
  return (
    <g>
      <line x1={x} x2={x} y1={y + 5} y2={y + 12} stroke="#333" strokeWidth={1} />
      <text x={x} y={y + 34} textAnchor="middle" fill={TICK_COLOR} fontSize={18} fontFamily={FONT}>
        {payload.value}
      </text>
    </g>
  );
}

function YTick(props: any) {
  const { x, y, payload } = props;
  return (
    <g>
      <line x1={x - 10} x2={x - 4} y1={y} y2={y} stroke="#333" strokeWidth={1} />
      <text x={x - 19} y={y + 6} textAnchor="end" fill={TICK_COLOR} fontSize={18} fontFamily={FONT}>
        {payload.value}
      </text>
    </g>
  );
}

export default function App() {
  return (
    <div style={{ position: "absolute", left: 0, top: 0, width: 1165, height: 586, background: "#fff" }}>
      <LineChart
        width={1165}
        height={586}
        data={data}
        margin={{ top: 4, right: 1, bottom: 26, left: 0 }}
      >
        <XAxis
          dataKey="month"
          type="number"
          domain={[-26.7, 609.9]}
          ticks={xTicks}
          axisLine={false}
          tickLine={false}
          tickSize={0}
          tickMargin={0}
          height={40}
          tick={<XTick />}
          allowDataOverflow
        >
          <Label
            content={() => (
              <text x={629} y={580} textAnchor="middle" fontSize={23} fontFamily={FONT} fill="#000">
                Maturity (in months)
              </text>
            )}
          />
        </XAxis>
        <YAxis
          type="number"
          domain={[-0.202, 3.658]}
          ticks={yTicks}
          axisLine={false}
          tickLine={false}
          tickSize={0}
          tickMargin={0}
          width={68}
          tick={<YTick />}
          allowDataOverflow
        >
          <Label
            content={() => (
              <text
                x={23}
                y={262}
                transform="rotate(-90 23 262)"
                textAnchor="middle"
                dominantBaseline="central"
                fontSize={26}
                fontFamily={FONT}
                fill="#000"
              >
                Rate (in % p.a.)
              </text>
            )}
          />
        </YAxis>
        {paths.map((p, j) => (
          <Line
            key={j}
            dataKey={"s" + j}
            type="linear"
            stroke="#000"
            strokeWidth={thin.includes(p) ? 1.2 : 2.2}
            dot={false}
            activeDot={false}
            isAnimationActive={false}
          />
        ))}
      </LineChart>
    </div>
  );
}
